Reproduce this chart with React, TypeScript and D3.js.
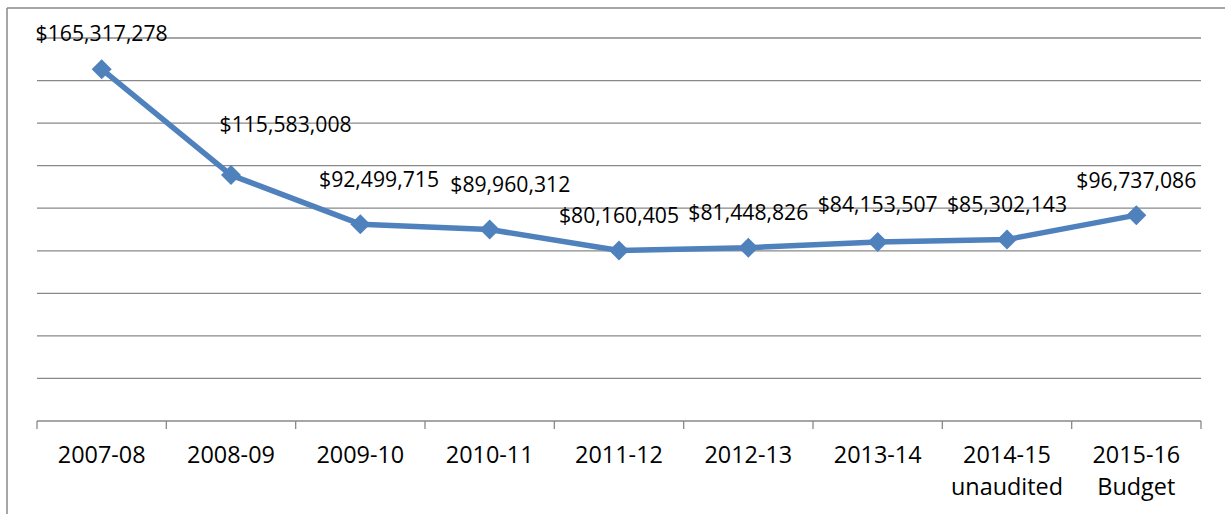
import React from "react";
import * as d3 from "d3";

const categories: string[][] = [
  ["2007-08"],
  ["2008-09"],
  ["2009-10"],
  ["2010-11"],
  ["2011-12"],
  ["2012-13"],
  ["2013-14"],
  ["2014-15", "unaudited"],
  ["2015-16", "Budget"],
];
const values: number[] = [
  165317278, 115583008, 92499715, 89960312, 80160405, 81448826, 84153507, 85302143, 96737086,
];
const yMax = 180000000;
const yStep = 20000000;

const W = 1225;
const H = 514;
const LEFT = 37;
const RIGHT = 1201;
const TOP = 38;
const BOTTOM = 421;
const COLOR = "#4F81BD";
const GRID = "#898989";
const FONT = "'Open Sans', 'Noto Sans', sans-serif";

// label shifts (dx, dy above point) as placed in the original
const labelShift: [number, number][] = [
  [0, 28.5], [54.6, 43.4], [18.7, 37.5], [20.6, 38], [0, 27.5], [0, 27.7], [0, 30], [0, 27.5], [0, 27.2],
];

export default function App() {
  const keys = categories.map((c) => c.join(" "));
  const x = d3.scaleBand<string>().domain(keys).range([LEFT, RIGHT]).padding(0);
  const y = d3.scaleLinear().domain([0, yMax]).range([BOTTOM, TOP]);
  const ticks = d3.range(yStep, yMax + 1, yStep);
  const cx = (i: number) => (x(keys[i]) as number) + x.bandwidth() / 2;
  const line = d3
    .line<number>()
    .x((_, i) => cx(i))
    .y((d) => y(d));
  const fmt = d3.format("$,.0f");
  const boundaries = keys.map((k) => x(k) as number).concat([RIGHT]);
  const diamond = (px: number, py: number, r: number) =>
    `M${px},${py - r}L${px + r},${py}L${px},${py + r}L${px - r},${py}Z`;

  return (
    <svg
      width={W}
      height={H}
      style={{ position: "absolute", left: 0, top: 0, display: "block", background: "#fff" }}
    >
      <rect x={0} y={0} width={W} height={H} fill="#fff" />
      {/* frame */}
      <line x1={7} y1={8} x2={W} y2={8} stroke={GRID} strokeWidth={1.5} />
      <line x1={7} y1={8} x2={7} y2={H} stroke={GRID} strokeWidth={1.5} />
      {/* gridlines */}
      {ticks.map((t) => (
        <line key={t} x1={LEFT} x2={RIGHT} y1={y(t)} y2={y(t)} stroke={GRID} strokeWidth={1.3} />
      ))}
      {/* x axis */}
      <line x1={LEFT} x2={RIGHT} y1={y(0)} y2={y(0)} stroke={GRID} strokeWidth={1.3} />
      {boundaries.map((b, i) => (
        <line key={i} x1={b} x2={b} y1={y(0)} y2={y(0) + 8} stroke={GRID} strokeWidth={1.3} />
      ))}
      {categories.map((c, i) => (
        <text
          key={keys[i]}
          x={cx(i)}
          y={463}
          textAnchor="middle"
          fontFamily={FONT}
          fontSize={23.4}
          fill="#000"
        >
          {c.map((s, j) => (
            <tspan key={j} x={cx(i)} dy={j === 0 ? 0 : 32}>
              {s}
            </tspan>
          ))}
        </text>
      ))}
      {/* line */}
      <path d={line(values) || ""} fill="none" stroke={COLOR} strokeWidth={5.5} strokeLinejoin="round" />
      {values.map((v, i) => (
        <path key={i} d={diamond(cx(i), y(v), 10)} fill={COLOR} />
      ))}
      {/* data labels */}
      {values.map((v, i) => (
        <text
          key={"l" + i}
          x={cx(i) + labelShift[i][0]}
          y={y(v) - labelShift[i][1]}
          textAnchor="middle"
          fontFamily={FONT}
          fontSize={21.2}
          fill="#000"
        >
          {fmt(v)}
        </text>
      ))}
    </svg>
  );
}
